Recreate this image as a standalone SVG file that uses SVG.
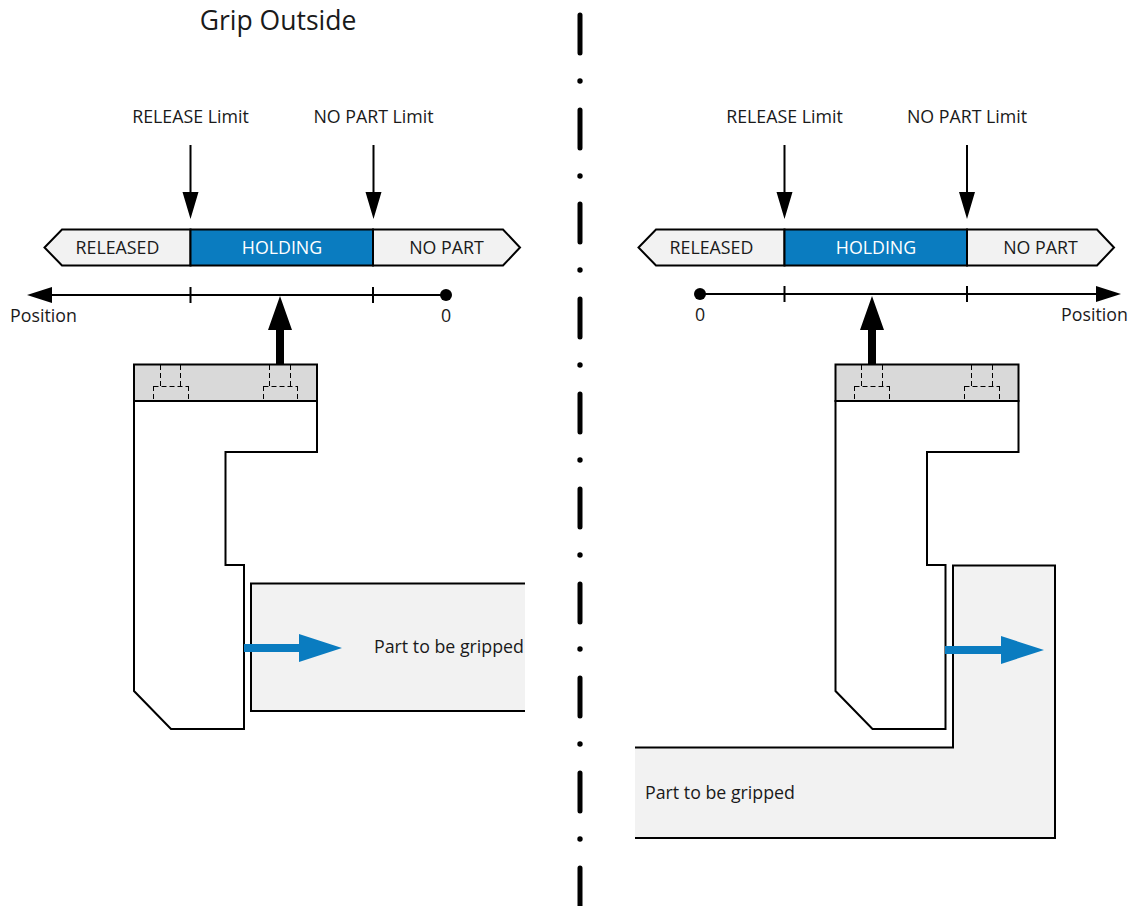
<svg xmlns="http://www.w3.org/2000/svg" width="1132" height="906" viewBox="0 0 1132 906">
<style>
text{font-family:"Open Sans","Liberation Sans",sans-serif;font-size:17.800px;fill:#1a1a1a}
.m{text-anchor:middle}
.s{stroke:#000;stroke-width:2;fill:none}
.g{fill:#f2f2f2;stroke:#000;stroke-width:2}
.b{fill:#0a7cc0;stroke:#000;stroke-width:2}
.w{fill:#fff;stroke:#000;stroke-width:2}
.h{fill:#d9d9d9;stroke:#000;stroke-width:2}
.d{stroke:#000;stroke-width:1;fill:none;stroke-dasharray:5 3}
.c{stroke:#000;stroke-width:5;stroke-linecap:round;fill:none}
</style>
<defs>
<g id="scale">
<path class="g" d="M190.500 229.500H62L44.500 247.500L62 265.500H190.500Z"/>
<rect class="b" x="190.500" y="229.500" width="182.500" height="36"/>
<path class="g" d="M373 229.500H503L520 247.500L503 265.500H373Z"/>
</g>
<g id="holder">
<path class="w" d="M134 401V691L171 729H244V565H225.500V452H317V401Z"/>
<rect class="h" x="134" y="364.500" width="183" height="36.500"/>
</g>
</defs>
<text x="278" y="30" class="m" style="font-size:26.500px">Grip Outside</text>
<g id="part-left">
<path fill="#f2f2f2" d="M251 584H525V710H251Z"/>
<path class="s" d="M525 583.500H251V711H525"/>
<text x="374" y="653">Part to be gripped</text>
</g>
<g id="part-right">
<path fill="#f2f2f2" stroke="none" d="M635 748H954V566H1055V837H635Z"/>
<path class="s" d="M635 747.500H953V565.500H1055V838H635"/>
<text x="645" y="799">Part to be gripped</text>
</g>
<g id="scale-left">
<use href="#scale"/>
<text x="117.500" y="254" class="m">RELEASED</text>
<text x="282" y="254" class="m" style="fill:#fff">HOLDING</text>
<text x="446.500" y="254" class="m">NO PART</text>
</g>
<g id="scale-right">
<use href="#scale" x="594"/>
<text x="711.500" y="254" class="m">RELEASED</text>
<text x="876" y="254" class="m" style="fill:#fff">HOLDING</text>
<text x="1040.500" y="254" class="m">NO PART</text>
</g>
<g id="gripper-left"><use href="#holder"/>
<path class="d" d="M160.500 365V386M180.500 365V386M153.500 386.500H188.500M153.500 386V401M188.500 386V401M269.500 365V386M290.500 365V386M263.500 386.500H297.500M263.500 386V401M297.500 386V401"/></g>
<g id="gripper-right"><use href="#holder" x="701.500"/>
<path class="d" d="M861.500 365V386M882.500 365V386M854.500 386.500H889.500M854.500 386V401M889.500 386V401M971.500 365V386M992.500 365V386M964.500 386.500H999.500M964.500 386V401M999.500 386V401"/></g>
<g id="connectors">
<path class="s" d="M190.500 145V196M373.500 145V196M784.500 145V196M967 145V196"/>
<path d="M182.500 192H198.500L190.500 219ZM365.500 192H381.500L373.500 219ZM776.500 192H792.500L784.500 219ZM959 192H975L967 219Z"/>
<path class="s" d="M48 295H446M190.500 287V303M373 287V303M700 294H1098M784.500 286V302M967 286V302"/>
<path d="M27 295L52 287V303ZM1121 294L1096 286V302Z"/>
<circle cx="446" cy="295" r="6"/><circle cx="700" cy="294" r="6"/>
<path d="M280 296L292 330H284V364H276V330H268ZM872 296L884 330H876V364H868V330H860Z"/>
<path fill="#0a7cc0" d="M244 644H299V634L342 648L299 662V652H244ZM945 646H1001V636L1044 650L1001 664V654H945Z"/>
</g>
<g id="centerline">
<path class="c" d="M580 15V53M580 110V148M580 204V242M580 299V337M580 394V432M580 489V527M580 584V622M580 678V716M580 773V811M580 868V906"/>
<g><circle cx="580" cy="81" r="2.700"/><circle cx="580" cy="176" r="2.700"/><circle cx="580" cy="270" r="2.700"/><circle cx="580" cy="365" r="2.700"/><circle cx="580" cy="460" r="2.700"/><circle cx="580" cy="555" r="2.700"/><circle cx="580" cy="649" r="2.700"/><circle cx="580" cy="744" r="2.700"/><circle cx="580" cy="839" r="2.700"/></g>
</g>
<g id="labels">
<text x="190.500" y="123" class="m">RELEASE Limit</text>
<text x="373.500" y="123" class="m">NO PART Limit</text>
<text x="784.500" y="123" class="m">RELEASE Limit</text>
<text x="967" y="123" class="m">NO PART Limit</text>
<text x="43.500" y="322" class="m">Position</text>
<text x="446" y="322" class="m">0</text>
<text x="700" y="321" class="m">0</text>
<text x="1094.500" y="321" class="m">Position</text>
</g>
</svg>
